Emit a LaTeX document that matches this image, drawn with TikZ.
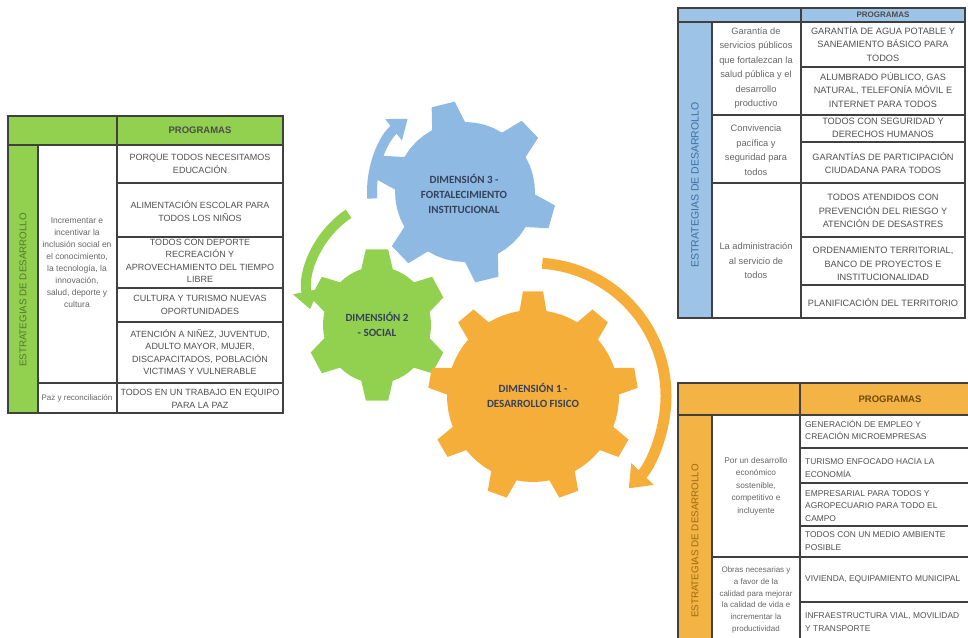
\documentclass[tikz,border=0pt]{standalone}
\usepackage{fontspec}
\setmainfont{Liberation Sans}
\newfontfamily\gearfont{Carlito}
\usetikzlibrary{arrows.meta}
\definecolor{tgreen}{HTML}{92D050}
\definecolor{tblue}{HTML}{9DC3E6}
\definecolor{torange}{HTML}{F4B345}
\definecolor{ggreen}{HTML}{92D050}
\definecolor{gblue}{HTML}{8DB9E3}
\definecolor{gorange}{HTML}{F6AE3A}
\definecolor{bordercol}{HTML}{404040}
\definecolor{progtext}{HTML}{505050}
\definecolor{midtext}{HTML}{666666}
\definecolor{gtext}{HTML}{34425A}
\definecolor{vgreen}{HTML}{4E7A2A}
\definecolor{vblue}{HTML}{3A6EA5}
\definecolor{vorange}{HTML}{9A6A10}
\tikzset{
  cellline/.style={draw=bordercol, line width=1.5pt},
  progtxt/.style={font=\fontsize{9}{12.5}\selectfont, text=progtext, align=center, inner sep=0pt},
  bprogtxt/.style={font=\fontsize{9.2}{13.5}\selectfont, text=progtext, align=center, inner sep=0pt},
  oprogtxt/.style={font=\fontsize{8.4}{12.5}\selectfont, text=progtext, align=left, anchor=west, inner sep=0pt},
  midtxt/.style={font=\fontsize{8.5}{12}\selectfont, text=midtext, align=center, inner sep=0pt},
  bmidtxt/.style={font=\fontsize{9.3}{14.5}\selectfont, text=midtext, align=center, inner sep=0pt},
  omidtxt/.style={font=\fontsize{8.3}{12.5}\selectfont, text=midtext, align=center, inner sep=0pt},
  vtxt/.style={font=\fontsize{9.8}{12}\selectfont, rotate=90, inner sep=0pt},
  hdtxt/.style={font=\bfseries\fontsize{9.5}{11}\selectfont, text=black!70, inner sep=0pt},
  geartxt/.style={font=\gearfont\bfseries\fontsize{11}{15}\selectfont, text=gtext, align=center, inner sep=0pt},
  arcarrow/.style={line width=#1, line cap=butt},
}
\newcommand{\cellbox}[5]{\path[cellline, fill=#5] (#1,#2) rectangle (#3,#4);}
\newcommand{\drawgear}[9]{%
  \begin{scope}[shift={(#1,#2)}, x=1pt, y=1pt, #9]
    \fill ({#6-#7}:#3)
      \foreach \k [evaluate=\k as \a using #6+(\k-1)*360/#5] in {1,...,#5} {
        -- ({\a-#8}:#4) -- ({\a+#8}:#4) -- ({\a+#7}:#3)
        -- ({\a+#7+0.25*(360/#5-2*#7)}:#3)
        -- ({\a+#7+0.5*(360/#5-2*#7)}:#3)
        -- ({\a+#7+0.75*(360/#5-2*#7)}:#3)
        -- ({\a+360/#5-#7}:#3)
      } -- cycle;
  \end{scope}}
\begin{document}
\begin{tikzpicture}[x=1pt, y=-1pt]
\useasboundingbox (0,0) rectangle (968,637);
\begin{scope}
\clip (0,0) rectangle (968,637);

% ---------------- green table (left) ----------------
\cellbox{8}{116}{117}{145}{tgreen}
\cellbox{117}{116}{283}{145}{tgreen}
\cellbox{8}{145}{38}{413}{tgreen}
\cellbox{38}{145}{117}{383}{white}
\cellbox{38}{383}{117}{413}{white}
\foreach \ya/\yb in {145/183,183/237,237/288,288/322,322/383,383/413}
  {\cellbox{117}{\ya}{283}{\yb}{white}}
\node[hdtxt] (lgh) at (200,130) {PROGRAMAS};
\node[vtxt, text=vgreen] (lgv) at (23,290) {ESTRATEGIAS DE DESARROLLO};
\node[midtxt] (lgm1) at (77,263) {Incrementar e\\incentivar la\\inclusión social en\\el conocimiento,\\la tecnología, la\\innovación,\\salud, deporte y\\cultura};
\node[midtxt, font=\fontsize{8}{10}\selectfont] (lgm2) at (77,398) {Paz y reconciliación};
\node[progtxt] (lgp1) at (200,164) {PORQUE TODOS NECESITAMOS\\EDUCACIÓN};
\node[progtxt] (lgp2) at (200,211) {ALIMENTACIÓN ESCOLAR PARA\\TODOS LOS NIÑOS};
\node[progtxt] (lgp3) at (200,261) {TODOS CON DEPORTE\\RECREACIÓN Y\\APROVECHAMIENTO DEL TIEMPO\\LIBRE};
\node[progtxt] (lgp4) at (200,305) {CULTURA Y TURISMO NUEVAS\\OPORTUNIDADES};
\node[progtxt] (lgp5) at (200,352) {ATENCIÓN A NIÑEZ, JUVENTUD,\\ADULTO MAYOR, MUJER,\\DISCAPACITADOS, POBLACIÓN\\VICTIMAS Y VULNERABLE};
\node[progtxt] (lgp6) at (200,399) {TODOS EN UN TRABAJO EN EQUIPO\\PARA LA PAZ};

% ---------------- blue table (top right) ----------------
\cellbox{678}{8}{801}{22}{tblue}
\cellbox{801}{8}{965}{22}{tblue}
\cellbox{678}{22}{712}{318}{tblue}
\foreach \ya/\yb in {22/115,115/183,183/318}
  {\cellbox{712}{\ya}{801}{\yb}{white}}
\foreach \ya/\yb in {22/67,67/115,115/142,142/183,183/237,237/285,285/318}
  {\cellbox{801}{\ya}{965}{\yb}{white}}
\node[hdtxt, font=\bfseries\fontsize{8}{9}\selectfont] (bh) at (883,15) {PROGRAMAS};
\node[vtxt, text=vblue, font=\fontsize{10.5}{12}\selectfont] (bv) at (695,185) {ESTRATEGIAS DE DESARROLLO};
\node[bmidtxt] (bm1) at (756,68) {Garantía de\\servicios públicos\\que fortalezcan la\\salud pública y el\\desarrollo\\productivo};
\node[bmidtxt] (bm2) at (756,150) {Convivencia\\pacífica y\\seguridad para\\todos};
\node[bmidtxt] (bm3) at (756,261) {La administración\\al servicio de\\todos};
\node[bprogtxt] (bp1) at (883,44) {GARANTÍA DE AGUA POTABLE Y\\SANEAMIENTO BÁSICO PARA\\TODOS};
\node[bprogtxt] (bp2) at (883,90) {ALUMBRADO PÚBLICO, GAS\\NATURAL, TELEFONÍA MÓVIL E\\INTERNET PARA TODOS};
\node[bprogtxt] (bp3) at (883,128) {TODOS CON SEGURIDAD Y\\DERECHOS HUMANOS};
\node[bprogtxt] (bp4) at (883,163) {GARANTÍAS DE PARTICIPACIÓN\\CIUDADANA PARA TODOS};
\node[bprogtxt] (bp5) at (883,211) {TODOS ATENDIDOS CON\\PREVENCIÓN DEL RIESGO Y\\ATENCIÓN DE DESASTRES};
\node[bprogtxt] (bp6) at (883,264) {ORDENAMIENTO TERRITORIAL,\\BANCO DE PROYECTOS E\\INSTITUCIONALIDAD};
\node[bprogtxt] (bp7) at (883,303) {PLANIFICACIÓN DEL TERRITORIO};

% ---------------- orange table (bottom right) ----------------
\cellbox{678}{383}{800}{415}{torange}
\cellbox{800}{383}{985}{415}{torange}
\cellbox{678}{415}{712}{650}{torange}
\foreach \ya/\yb in {415/557,557/650}
  {\cellbox{712}{\ya}{800}{\yb}{white}}
\foreach \ya/\yb in {415/448,448/483,483/526,526/557,557/602,602/650}
  {\cellbox{800}{\ya}{985}{\yb}{white}}
\node[hdtxt, text=vorange!70!black] (oh) at (890,399) {PROGRAMAS};
\node[vtxt, text=vorange] (ov) at (695,541) {ESTRATEGIAS DE DESARROLLO};
\node[omidtxt] (om1) at (756,486) {Por un desarrollo\\económico\\sostenible,\\competitivo e\\incluyente};
\node[omidtxt, font=\fontsize{8}{11.7}\selectfont] (om2) at (756,600) {Obras necesarias y\\a favor de la\\calidad para mejorar\\la calidad de vida e\\incrementar la\\productividad};
\node[oprogtxt] (op1) at (805,430) {GENERACIÓN DE EMPLEO Y\\CREACIÓN MICROEMPRESAS};
\node[oprogtxt] (op2) at (805,468) {TURISMO ENFOCADO HACIA LA\\ECONOMÍA};
\node[oprogtxt] (op3) at (805,506) {EMPRESARIAL PARA TODOS Y\\AGROPECUARIO PARA TODO EL\\CAMPO};
\node[oprogtxt] (op4) at (805,541) {TODOS CON UN MEDIO AMBIENTE\\POSIBLE};
\node[oprogtxt] (op5) at (805,579) {VIVIENDA, EQUIPAMIENTO MUNICIPAL};
\node[oprogtxt] (op6) at (805,622) {INFRAESTRUCTURA VIAL, MOVILIDAD\\Y TRANSPORTE};

% ---------------- circular arrows ----------------
\begin{scope}[shift={(533,396)}, x=1pt, y=1pt]
  \draw[arcarrow=11pt, gorange, -{Triangle[width=30pt,length=20pt]}] (86:133) arc[start angle=86, end angle=-44, radius=133];
\end{scope}
\begin{scope}[shift={(465,192)}, x=1pt, y=1pt]
  \draw[arcarrow=10pt, gblue, -{Triangle[width=26pt,length=18pt]}] (184:93) arc[start angle=184, end angle=128, radius=93];
\end{scope}
\begin{scope}[shift={(400,290)}, x=1pt, y=1pt]
  \draw[arcarrow=10pt, ggreen, -{Triangle[width=26pt,length=18pt]}] (124:92) arc[start angle=124, end angle=192, radius=92];
\end{scope}

% ---------------- gears ----------------
\drawgear{465}{192}{70}{91}{6}{104}{14}{7.5}{fill=gblue}
\drawgear{377}{325}{54}{71}{6}{90}{17}{9}{fill=ggreen, y=1.08pt}
\drawgear{533}{396}{86}{105}{9}{90}{9}{5.5}{fill=gorange}

\node[geartxt] (d3) at (464,194) {DIMENSIÓN 3 -\\FORTALECIMIENTO\\INSTITUCIONAL};
\node[geartxt] (d2) at (377,324) {DIMENSIÓN 2\\- SOCIAL};
\node[geartxt] (d1) at (533,395) {DIMENSIÓN 1 -\\DESARROLLO FISICO};
\end{scope}
\end{tikzpicture}
\end{document}
